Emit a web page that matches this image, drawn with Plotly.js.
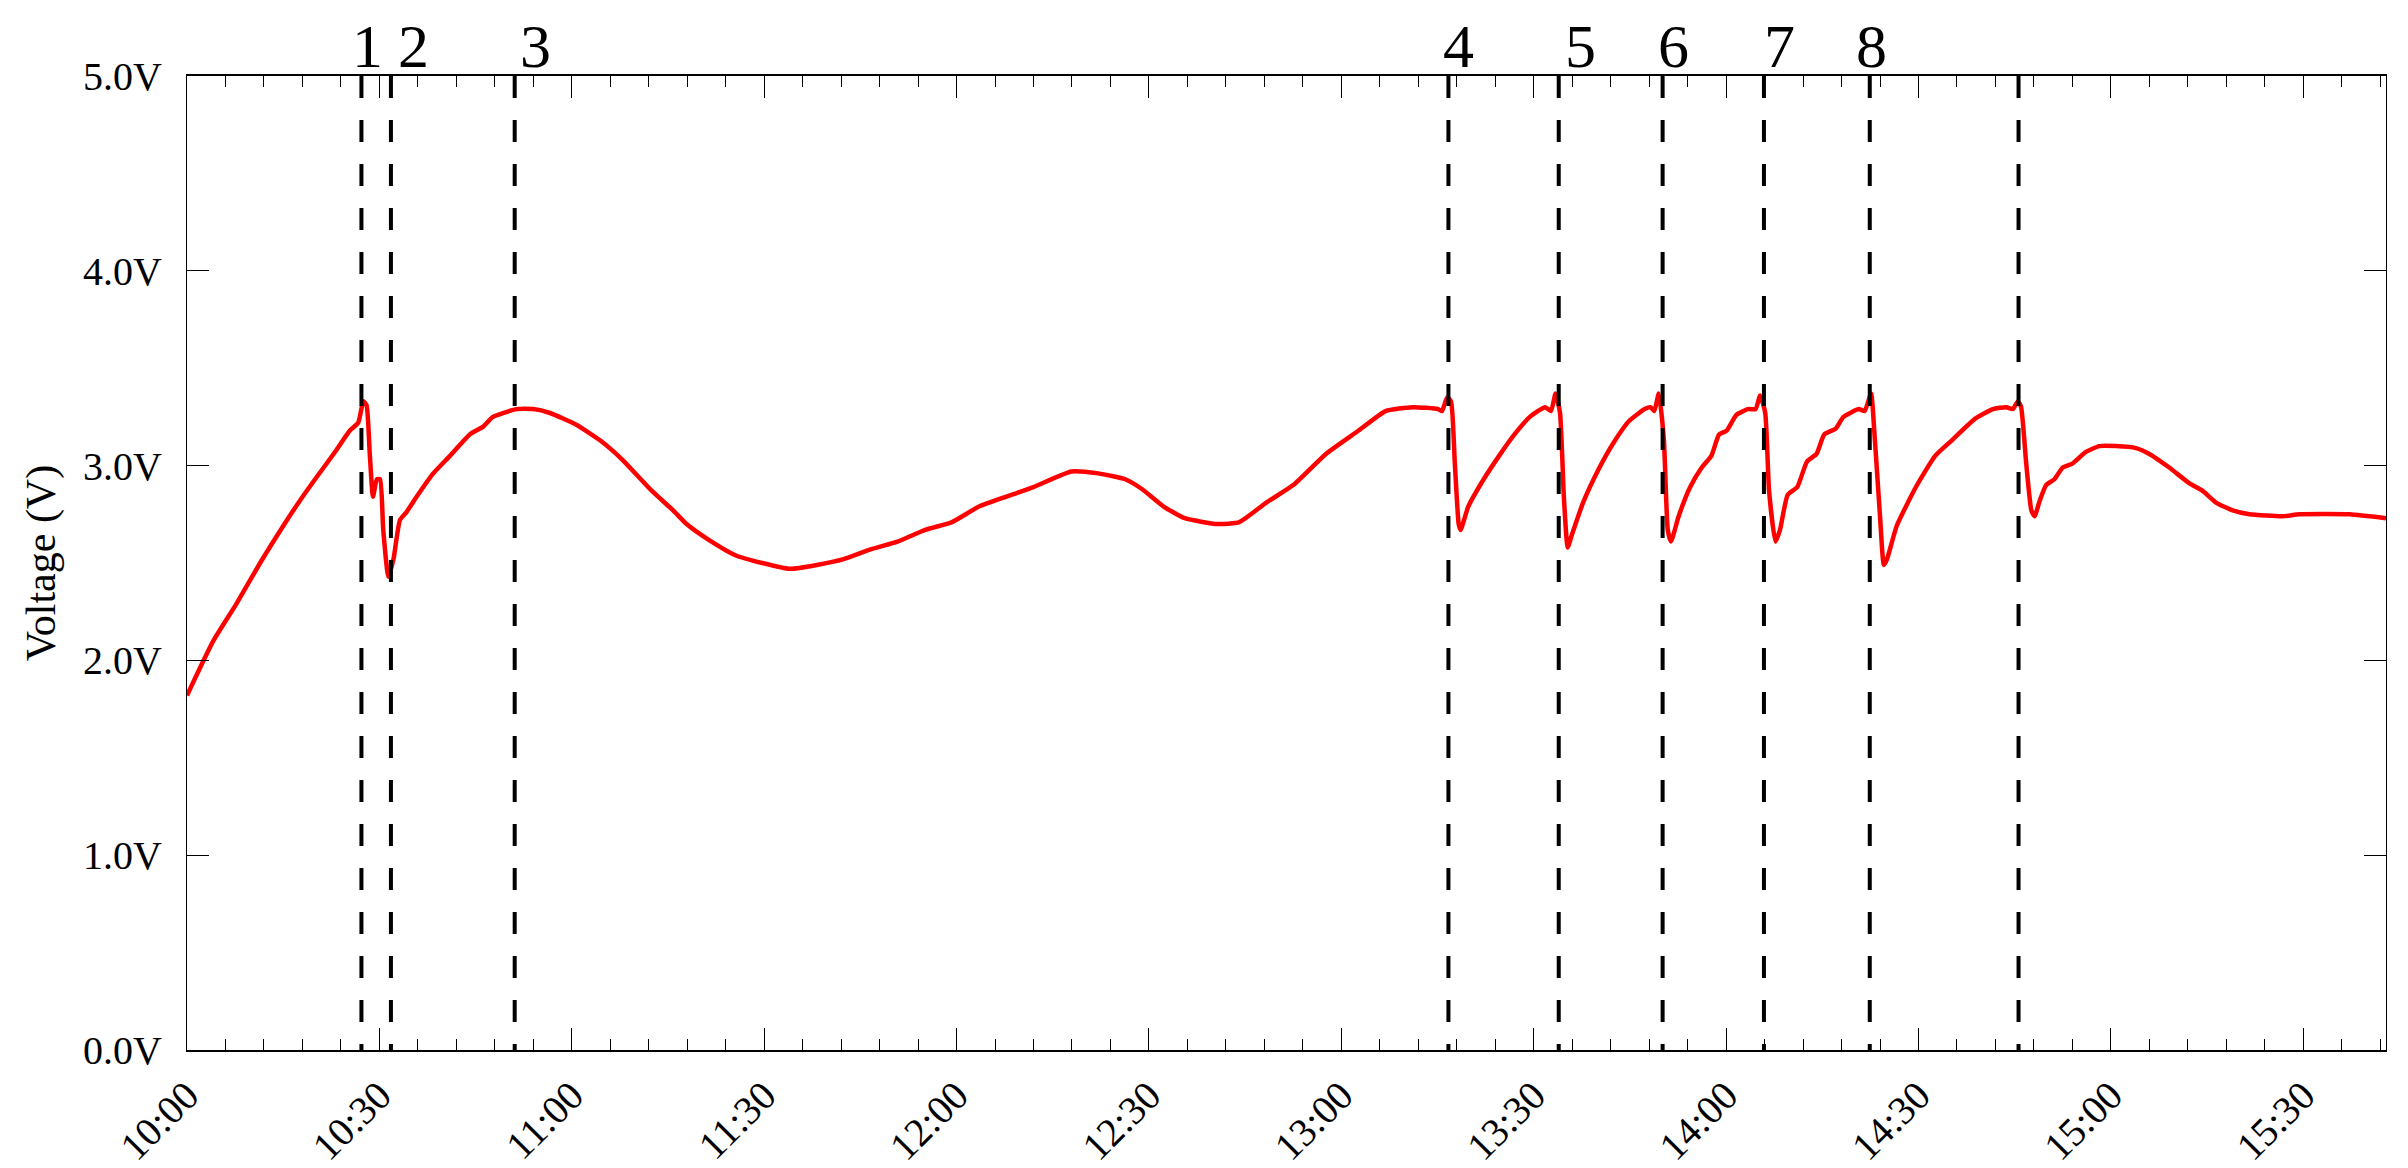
<!DOCTYPE html>
<html>
<head>
<meta charset="utf-8">
<script src="https://cdn.plot.ly/plotly-3.0.1.min.js"></script>
<style>
  html, body { margin: 0; padding: 0; background: #fff; }
  #plotVolt { width: 2408px; height: 1168px; }
</style>
</head>
<body>
<div id="plotVolt"></div>
<script>
// minutes after 10:00 and the measured voltage
var minutes = [0, 4.1, 7.7, 11.4, 15.0, 17.6, 20.2, 23.3, 25.4, 26.7, 27.5, 28.0, 28.5, 29.0, 29.6, 30.1, 30.6, 31.4, 32.2, 33.2,
  34.2, 35.8, 38.4, 41.0, 44.1, 46.2, 47.7, 51.4, 54.0, 56.6, 60.7, 64.4, 67.9, 72.5, 75.8, 77.9, 81.3, 85.5, 89.7, 94.0,
  98.2, 102.4, 106.6, 110.8, 115.1, 119.3, 123.5, 127.7, 132.0, 137.9, 142.1, 146.3, 148.9, 152.3, 155.6, 160.7, 164.1, 168.3, 172.5, 177.6,
  182.7, 186.9, 191.1, 195.1, 195.7, 196.5, 197.1, 197.7, 198.3, 198.6, 199.8, 202.2, 204.6, 207.0, 209.4, 211.8, 212.7, 213.4, 214.1, 214.7,
  215.3, 215.9, 217.7, 220.1, 222.5, 224.9, 227.3, 228.2, 228.8, 229.5, 230.3, 230.9, 231.4, 232.6, 234.4, 236.2, 237.7, 238.9, 240.1, 241.6,
  243.4, 244.6, 245.3, 246.1, 246.7, 247.7, 248.4, 249.6, 251.1, 252.6, 254.1, 255.3, 257.1, 258.3, 260.7, 261.6, 262.6, 263.1, 264.0, 264.6,
  265.1, 266.6, 269.6, 272.6, 275.2, 278.8, 281.6, 283.7, 284.7, 285.5, 286.0, 286.8, 287.6, 288.1, 288.9, 289.9, 291.2, 292.5, 294.0, 296.1,
  298.2, 300.8, 303.9, 306.0, 309.1, 312.2, 314.3, 316.4, 319.0, 321.6, 326.8, 329.4, 337.2, 342.9];
var voltage = [1.82, 2.10, 2.29, 2.50, 2.69, 2.82, 2.94, 3.08, 3.18, 3.22, 3.33, 3.31, 3.06, 2.84, 2.93, 2.93, 2.67, 2.43, 2.52, 2.72,
  2.76, 2.84, 2.96, 3.05, 3.16, 3.20, 3.25, 3.29, 3.29, 3.27, 3.21, 3.13, 3.03, 2.87, 2.77, 2.70, 2.62, 2.54, 2.50, 2.47,
  2.49, 2.52, 2.57, 2.61, 2.67, 2.71, 2.79, 2.84, 2.89, 2.97, 2.96, 2.93, 2.88, 2.79, 2.73, 2.70, 2.71, 2.81, 2.90, 3.06,
  3.18, 3.28, 3.30, 3.29, 3.28, 3.35, 3.33, 3.01, 2.70, 2.67, 2.79, 2.93, 3.05, 3.16, 3.25, 3.30, 3.28, 3.37, 3.27, 2.84,
  2.58, 2.64, 2.81, 2.98, 3.12, 3.23, 3.29, 3.30, 3.28, 3.37, 3.13, 2.67, 2.61, 2.74, 2.89, 2.99, 3.05, 3.16, 3.18, 3.26,
  3.29, 3.29, 3.36, 3.27, 2.87, 2.61, 2.67, 2.85, 2.89, 3.02, 3.06, 3.16, 3.19, 3.25, 3.29, 3.28, 3.37, 3.18, 2.74, 2.49,
  2.52, 2.69, 2.89, 3.05, 3.13, 3.24, 3.29, 3.30, 3.29, 3.33, 3.30, 3.01, 2.77, 2.74, 2.82, 2.90, 2.93, 2.99, 3.01, 3.07,
  3.10, 3.10, 3.09, 3.06, 2.99, 2.91, 2.87, 2.81, 2.77, 2.75, 2.74, 2.75, 2.75, 2.73];

// event markers (dashed lines), minutes after 10:00
var eventMinutes = [27.2, 31.8, 51.1, 196.7, 213.9, 230.1, 245.9, 262.4, 285.6];
var eventLabels = ["1", "2", "3", "4", "5", "6", "7", "8"];
// label nudges in px so the numbers sit like in the original
var labelShift = [6, 23, 21, 10, 22, 11, 16, 2];

var axisEnd = 342.9;
var serif = "Liberation Serif, Times New Roman, serif";

// turn minutes into a date string for the date axis
function stamp(m) {
  var s = Math.round(m * 60) + 10 * 3600;
  var hh = Math.floor(s / 3600), mm = Math.floor((s % 3600) / 60), ss = s % 60;
  function p(n) { return (n < 10 ? "0" : "") + n; }
  return "2000-01-01 " + p(hh) + ":" + p(mm) + ":" + p(ss);
}

var trace = {
  x: minutes.map(stamp),
  y: voltage,
  type: "scatter",
  mode: "lines",
  line: {color: "#ff0000", width: 4.5, shape: "spline", smoothing: 0.5},
  hoverinfo: "skip"
};

var shapes = eventMinutes.map(function (m) {
  return {
    type: "line", xref: "x", yref: "paper",
    x0: stamp(m), x1: stamp(m), y0: 1, y1: 0,
    line: {color: "#000", width: 4, dash: "22px,22px"}
  };
});

var annotations = eventLabels.map(function (t, i) {
  return {
    text: t, xref: "x", yref: "paper",
    x: stamp(eventMinutes[i]), y: 1,
    xanchor: "center", yanchor: "bottom",
    xshift: labelShift[i], yshift: -6,
    showarrow: false,
    font: {family: serif, size: 62, color: "#000"}
  };
});

var layout = {
  width: 2408,
  height: 1168,
  margin: {l: 187, r: 22, t: 76, b: 118},
  paper_bgcolor: "#fff",
  plot_bgcolor: "#fff",
  showlegend: false,
  font: {family: serif, color: "#000"},
  xaxis: {
    type: "date",
    range: [stamp(0), stamp(axisEnd)],
    tick0: stamp(0),
    dtick: 30 * 60 * 1000,
    tickformat: "%H:%M",
    tickangle: -45,
    ticks: "inside",
    ticklen: 22,
    tickwidth: 1,
    tickcolor: "#000",
    ticklabelstandoff: 4,
    tickfont: {family: serif, size: 40, color: "#000"},
    minor: {dtick: 6 * 60 * 1000, ticks: "inside", ticklen: 11, tickwidth: 1, tickcolor: "#000", showgrid: false},
    showline: true,
    linecolor: "#000",
    linewidth: 2,
    mirror: "ticks",
    showgrid: false,
    zeroline: false
  },
  yaxis: {
    range: [0, 5],
    dtick: 1,
    tickformat: ".1f",
    ticksuffix: "V",
    ticks: "inside",
    ticklen: 22,
    tickwidth: 1,
    tickcolor: "#000",
    ticklabelstandoff: 16,
    tickfont: {family: serif, size: 40, color: "#000"},
    showline: true,
    linecolor: "#000",
    linewidth: 1,
    mirror: "ticks",
    showgrid: false,
    zeroline: false,
    title: {text: "Voltage (V)", font: {family: serif, size: 42, color: "#000"}, standoff: 14}
  },
  shapes: shapes,
  annotations: annotations
};

Plotly.newPlot("plotVolt", [trace], layout, {staticPlot: true});
</script>
</body>
</html>
